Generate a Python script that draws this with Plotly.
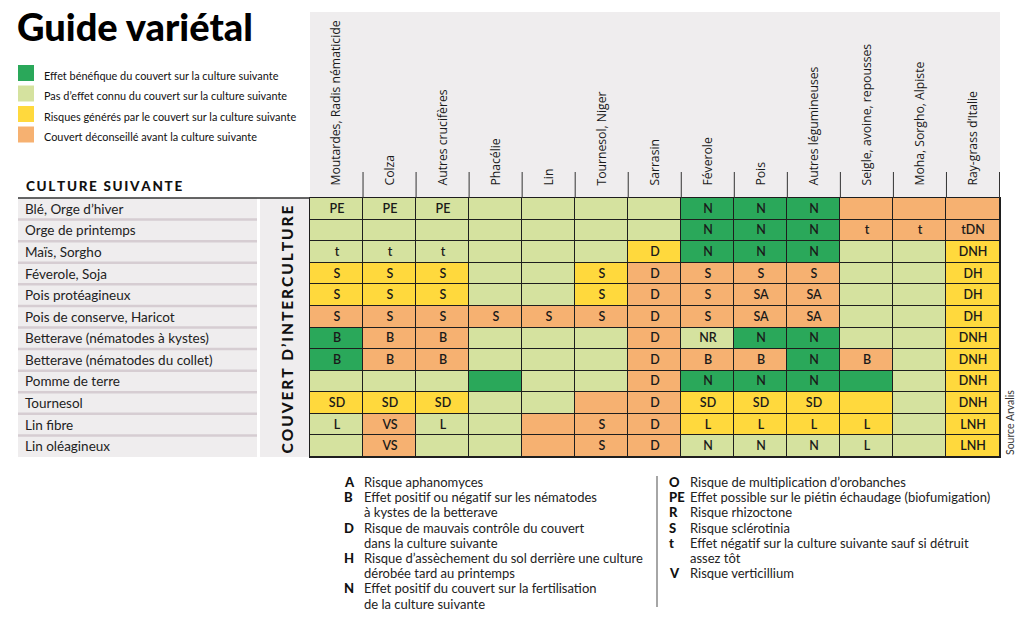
import plotly.graph_objects as go

W, H = 1024, 624

# ---------------- data ----------------
columns = ["Moutardes, Radis nématicide", "Colza", "Autres crucifères", "Phacélie", "Lin",
           "Tournesol, Niger", "Sarrasin", "Féverole", "Pois", "Autres légumineuses",
           "Seigle, avoine, repousses", "Moha, Sorgho, Alpiste", "Ray-grass d’Italie"]

rows = ["Blé, Orge d’hiver", "Orge de printemps", "Maïs, Sorgho", "Féverole, Soja",
        "Pois protéagineux", "Pois de conserve, Haricot", "Betterave (nématodes à kystes)",
        "Betterave (nématodes du collet)", "Pomme de terre", "Tournesol", "Lin fibre",
        "Lin oléagineux"]

# effect class per cell: G = bénéfique, L = pas d'effet connu, Y = risques, O = déconseillé
effects = [
    "LLLLLLLGGGOOO",
    "LLLLLLLGGGOOO",
    "LLLLLLYGGGLLY",
    "YYYLLYOOOOLLY",
    "YYYLLYOOOOLLY",
    "OOOOOOOOOOLLY",
    "GOOLLLOLGGLLY",
    "GOOLLLOOOGOLY",
    "LLLGLLOGGGGLY",
    "YYYLLOOYYYYLY",
    "LOLLOOOYYYYLY",
    "LOLLOOOLLLLLY",
]

cell_codes = [
    ["PE", "PE", "PE", "", "", "", "", "N", "N", "N", "", "", ""],
    ["", "", "", "", "", "", "", "N", "N", "N", "t", "t", "tDN"],
    ["t", "t", "t", "", "", "", "D", "N", "N", "N", "", "", "DNH"],
    ["S", "S", "S", "", "", "S", "D", "S", "S", "S", "", "", "DH"],
    ["S", "S", "S", "", "", "S", "D", "S", "SA", "SA", "", "", "DH"],
    ["S", "S", "S", "S", "S", "S", "D", "S", "SA", "SA", "", "", "DH"],
    ["B", "B", "B", "", "", "", "D", "NR", "N", "N", "", "", "DNH"],
    ["B", "B", "B", "", "", "", "D", "B", "B", "N", "B", "", "DNH"],
    ["", "", "", "", "", "", "D", "N", "N", "N", "", "", "DNH"],
    ["SD", "SD", "SD", "", "", "", "D", "SD", "SD", "SD", "", "", "DNH"],
    ["L", "VS", "L", "", "", "S", "D", "L", "L", "L", "L", "", "LNH"],
    ["", "VS", "", "", "", "S", "D", "N", "N", "N", "L", "", "LNH"],
]

classes = ["G", "L", "Y", "O"]
class_labels = ["Effet bénéfique du couvert sur la culture suivante",
                "Pas d’effet connu du couvert sur la culture suivante",
                "Risques générés par le couvert sur la culture suivante",
                "Couvert déconseillé avant la culture suivante"]
class_colors = ["#2aa85a", "#d5e29f", "#ffd93d", "#f6b171"]

key_left_letters = ["A", "B", "", "D", "", "H", "", "N", ""]
key_left_texts = ["Risque aphanomyces",
                  "Effet positif ou négatif sur les nématodes",
                  "à kystes de la betterave",
                  "Risque de mauvais contrôle du couvert",
                  "dans la culture suivante",
                  "Risque d’assèchement du sol derrière une culture",
                  "dérobée tard au printemps",
                  "Effet positif du couvert sur la fertilisation",
                  "de la culture suivante"]
key_right_letters = ["O", "PE", "R", "S", "t", "", "V"]
key_right_texts = ["Risque de multiplication d’orobanches",
                   "Effet possible sur le piétin échaudage (biofumigation)",
                   "Risque rhizoctone",
                   "Risque sclérotinia",
                   "Effet négatif sur la culture suivante sauf si détruit",
                   "assez tôt",
                   "Risque verticillium"]

# ---------------- helpers ----------------
def px(x):
    return x / W


def py(y):
    return 1 - y / H


GRID_L, GRID_R, GRID_T, GRID_B = 310, 1000, 198, 457
DARK = "#1e1e1e"
PANEL = "#efedee"
FONT = "Lato, sans-serif"

z = [[classes.index(c) for c in row] for row in effects]
n = len(classes)
colorscale = []
for i, col in enumerate(class_colors):
    colorscale.append([i / n, col])
    colorscale.append([(i + 1) / n, col])

fig = go.Figure()
fig.add_trace(go.Heatmap(
    z=z, x=columns, y=rows, text=cell_codes, texttemplate="%{text}",
    textfont=dict(family=FONT, size=12.5, color="#1a1a1a", weight=600),
    colorscale=colorscale, zmin=-0.5, zmax=n - 0.5, showscale=False,
    xgap=1, ygap=1, hoverinfo="skip",
))

shapes = []
annotations = []

# header panel
shapes.append(dict(type="rect", xref="paper", yref="paper", x0=px(GRID_L), x1=px(GRID_R),
                   y0=py(GRID_T), y1=py(12), fillcolor=PANEL, line_width=0, layer="below"))
# row-label panel and intercultural strip
shapes.append(dict(type="rect", xref="paper", yref="paper", x0=px(18), x1=px(257),
                   y0=py(GRID_B), y1=py(GRID_T), fillcolor=PANEL, line_width=0, layer="below"))
shapes.append(dict(type="rect", xref="paper", yref="paper", x0=px(260), x1=px(GRID_L),
                   y0=py(GRID_B), y1=py(GRID_T), fillcolor=PANEL, line_width=0, layer="below"))
# row separators in the label panel
for i in range(1, len(rows)):
    shapes.append(dict(type="line", xref="paper", yref="y", x0=px(18), x1=px(257),
                       y0=i - 0.5, y1=i - 0.5, line=dict(color="#d6cdd2", width=2.5)))
# top rule
shapes.append(dict(type="line", xref="paper", yref="paper", x0=px(18), x1=px(GRID_L),
                   y0=py(GRID_T), y1=py(GRID_T), line=dict(color="#333333", width=1.5)))
# header column separators
for i in range(len(columns)):
    shapes.append(dict(type="line", xref="x", yref="paper", x0=i + 0.5, x1=i + 0.5,
                       y0=py(GRID_T), y1=py(172), line=dict(color="#333333", width=1)))

# row labels
for r in rows:
    annotations.append(dict(text=r, xref="paper", yref="y", x=px(23), y=r, xanchor="left",
                            yanchor="middle", showarrow=False,
                            font=dict(family=FONT, size=13.5, color="#222222")))

# title
annotations.append(dict(text="Guide variétal", xref="paper", yref="paper", x=px(15), y=py(26),
                        xanchor="left", yanchor="middle", showarrow=False,
                        font=dict(family=FONT, size=38, color="#000000", weight=900)))

# class legend
for i, (lab, col) in enumerate(zip(class_labels, class_colors)):
    yc = 73 + i * 20.5
    shapes.append(dict(type="rect", xref="paper", yref="paper", x0=px(18), x1=px(34),
                       y0=py(yc + 8), y1=py(yc - 8), fillcolor=col, line_width=0))
    annotations.append(dict(text=lab, xref="paper", yref="paper", x=px(42), y=py(yc + 2),
                            xanchor="left", yanchor="middle", showarrow=False,
                            font=dict(family=FONT, size=10.9, color="#111111")))

THIN = "\u2009"
annotations.append(dict(text=THIN.join("CULTURE SUIVANTE"), xref="paper", yref="paper",
                        x=px(24), y=py(186), xanchor="left", yanchor="middle", showarrow=False,
                        font=dict(family=FONT, size=13.5, color="#111111", weight=900)))
annotations.append(dict(text=THIN.join("COUVERT D’INTERCULTURE"), xref="paper", yref="paper",
                        x=px(286), y=py((GRID_T + GRID_B) / 2 + 2), xanchor="center",
                        yanchor="middle", showarrow=False, textangle=-90,
                        font=dict(family=FONT, size=15.5, color="#111111", weight=900)))
annotations.append(dict(text="Source Arvalis", xref="paper", yref="paper", x=px(1010),
                        y=py(423), xanchor="center", yanchor="middle", showarrow=False,
                        textangle=-90, font=dict(family=FONT, size=10.5, color="#333333")))

# abbreviation key
LINE = 15.2
KEY_SIZE = 13
for k, (let, txt) in enumerate(zip(key_left_letters, key_left_texts)):
    yc = 482 + k * LINE
    if let:
        annotations.append(dict(text=let, xref="paper", yref="paper", x=px(342), y=py(yc),
                                xanchor="left", yanchor="middle", showarrow=False,
                                font=dict(family=FONT, size=KEY_SIZE, color="#111111",
                                          weight=900)))
    annotations.append(dict(text=txt, xref="paper", yref="paper", x=px(362), y=py(yc),
                            xanchor="left", yanchor="middle", showarrow=False,
                            font=dict(family=FONT, size=KEY_SIZE, color="#222222")))
for k, (let, txt) in enumerate(zip(key_right_letters, key_right_texts)):
    yc = 482 + k * LINE
    if let:
        annotations.append(dict(text=let, xref="paper", yref="paper", x=px(667), y=py(yc),
                                xanchor="left", yanchor="middle", showarrow=False,
                                font=dict(family=FONT, size=KEY_SIZE, color="#111111",
                                          weight=900)))
    annotations.append(dict(text=txt, xref="paper", yref="paper", x=px(688), y=py(yc),
                            xanchor="left", yanchor="middle", showarrow=False,
                            font=dict(family=FONT, size=KEY_SIZE, color="#222222")))
shapes.append(dict(type="line", xref="paper", yref="paper", x0=px(657), x1=px(657),
                   y0=py(476), y1=py(607), line=dict(color="#888888", width=1.5)))

fig.update_layout(
    width=W, height=H, margin=dict(l=0, r=0, t=0, b=0),
    paper_bgcolor="#ffffff", plot_bgcolor=DARK,
    shapes=shapes, annotations=annotations,
    xaxis=dict(domain=[px(GRID_L), px(GRID_R)], side="top", tickangle=-90, ticks="",
               ticklabelstandoff=9, showgrid=False, zeroline=False,
               tickfont=dict(family="Open Sans, sans-serif", size=12.2, color="#1a1a1a"),
               showline=True, mirror=True, linecolor=DARK, linewidth=1, fixedrange=True),
    yaxis=dict(domain=[py(GRID_B), py(GRID_T)], autorange="reversed", showticklabels=False,
               ticks="", showgrid=False, zeroline=False, showline=True, mirror=True,
               linecolor=DARK, linewidth=1, fixedrange=True),
    showlegend=False,
)

fig.write_html("out.html", config={"displayModeBar": False},
               post_script="document.body.style.margin='0px';document.body.style.overflow='hidden';")
